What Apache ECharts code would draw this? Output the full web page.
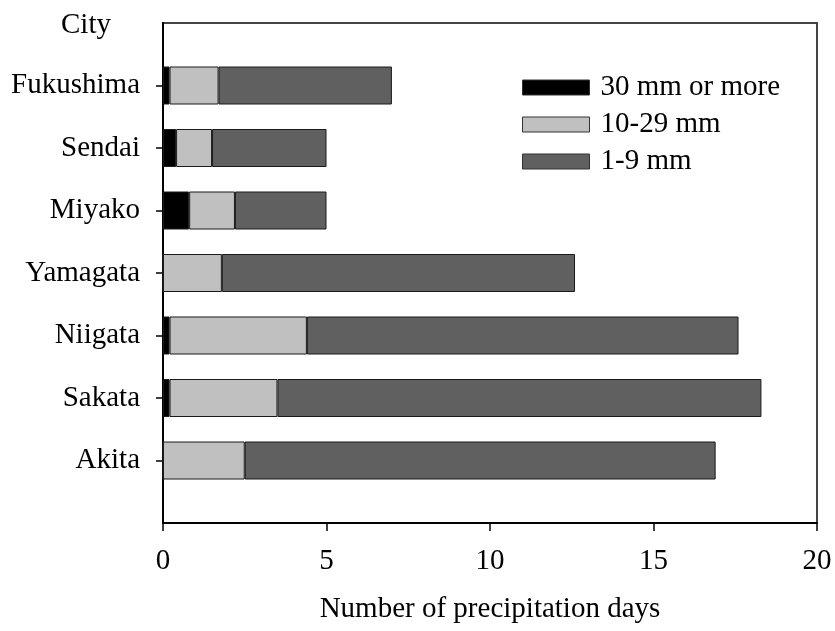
<!DOCTYPE html>
<html>
<head>
<meta charset="utf-8">
<title>Precipitation days by city</title>
<script src="https://cdn.jsdelivr.net/npm/echarts@6/dist/echarts.min.js"></script>
<style>
  html, body { margin: 0; padding: 0; background: #ffffff; }
  #chart { width: 835px; height: 631px; }
</style>
</head>
<body>
<div id="chart"></div>
<script>
// Cities from bottom to top of the chart
const cities = ['Akita', 'Sakata', 'Niigata', 'Yamagata', 'Miyako', 'Sendai', 'Fukushima'];

// Number of days in each precipitation class
const daysHeavy  = [0.0, 0.2, 0.2, 0.0, 0.8, 0.4, 0.2];    // 30 mm or more
const daysMedium = [2.5, 3.3, 4.2, 1.8, 1.4, 1.1, 1.5];    // 10-29 mm
const daysLight  = [14.4, 14.8, 13.2, 10.8, 2.8, 3.5, 5.3]; // 1-9 mm

const seriesNames = ['30 mm or more', '10-29 mm', '1-9 mm'];
const xTicks = [0, 5, 10, 15, 20];

// Empty slots below and above the cities leave padding at both ends of the axis
const yCategories = [''].concat(cities, ['']);
const pad = arr => [null].concat(arr, [null]);

const font = 'Liberation Serif, Times New Roman, serif';
const fontSize = 29;
const colors = ['#000000', '#c0c0c0', '#606060'];

const chart = echarts.init(document.getElementById('chart'), null, { renderer: 'canvas' });

const barSeries = [daysHeavy, daysMedium, daysLight].map((vals, i) => ({
  name: seriesNames[i],
  type: 'bar',
  stack: 'days',
  barWidth: 38,
  data: pad(vals),
  itemStyle: { color: colors[i], borderColor: '#1a1a1a', borderWidth: 1 },
  emphasis: { disabled: true }
}));

chart.setOption({
  animation: false,
  backgroundColor: '#ffffff',
  textStyle: { fontFamily: font },
  grid: {
    left: 163, right: 18, top: 23, bottom: 108,
    show: true, borderColor: '#444', borderWidth: 2, backgroundColor: 'transparent'
  },
  legend: {
    orient: 'vertical',
    left: 517, top: 68,
    itemWidth: 67, itemHeight: 15, itemGap: 8,
    icon: 'rect',
    textStyle: { fontFamily: font, fontSize: fontSize, color: '#000', padding: [0, 0, 0, 6] },
    itemStyle: { borderColor: '#333', borderWidth: 1 },
    selectedMode: false
  },
  xAxis: {
    type: 'value',
    min: xTicks[0], max: xTicks[xTicks.length - 1], interval: xTicks[1] - xTicks[0],
    name: 'Number of precipitation days',
    nameLocation: 'middle', nameGap: 72,
    nameTextStyle: { fontFamily: font, fontSize: fontSize, color: '#000' },
    axisLine: { show: true, lineStyle: { color: '#000', width: 2 } },
    axisTick: { show: true, length: 8, lineStyle: { color: '#000', width: 1.5 } },
    axisLabel: { fontFamily: font, fontSize: fontSize, color: '#000', margin: 24 },
    splitLine: { show: false }
  },
  yAxis: {
    type: 'category',
    data: yCategories,
    boundaryGap: false,
    axisLine: { show: true, lineStyle: { color: '#000', width: 2 } },
    axisTick: {
      show: true, length: 7,
      interval: (idx) => idx > 0 && idx < yCategories.length - 1,
      lineStyle: { color: '#000', width: 1.5 }
    },
    axisLabel: { fontFamily: font, fontSize: fontSize, color: '#000', margin: 23, interval: 0 },
    splitLine: { show: false }
  },
  graphic: [{
    type: 'text',
    left: 61, top: 11,
    style: { text: 'City', fontFamily: font, fontSize: fontSize, fill: '#000' }
  }],
  series: barSeries
});
</script>
</body>
</html>
